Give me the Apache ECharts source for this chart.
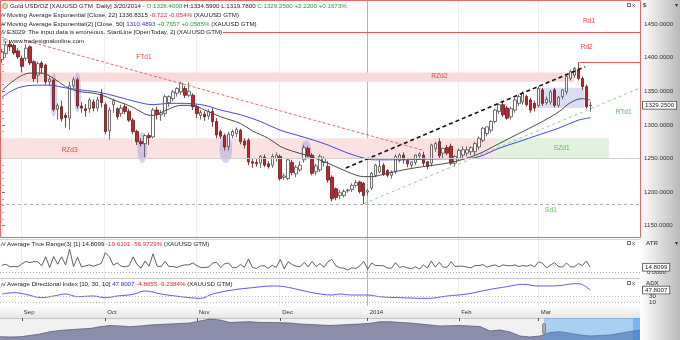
<!DOCTYPE html>
<html><head><meta charset="utf-8">
<script src="https://cdn.jsdelivr.net/npm/echarts@6/dist/echarts.min.js"></script>
<style>html,body{margin:0;padding:0;background:#fff}#c{width:680px;height:340px}</style>
</head><body><div id="c"></div><script>
// ---------- DATA ----------
const open = [
1397,1406,1420,1418,1410,1399,1399,1416,1394,1374,
1392,1389,1364,1366,1323,1327,1314,1310,1358,1367,
1328,1324,1324,1334,1325,1346,1330,1291,1330,1324,
1317,1327,1320,1307,1290,1275,1272,1284,1282,1322,
1315,1317,1333,1339,1347,1349,1354,1344,1344,1327,
1314,1316,1313,1320,1305,1290,1284,1268,1284,1287,
1292,1276,1277,1245,1244,1243,1252,1242,1240,1250,
1253,1222,1220,1244,1227,1233,1248,1265,1255,1230,
1233,1244,1238,1222,1205,1195,1195,1202,1204,1210,
1215,1213,1200,1206,1225,1230,1240,1232,1225,1230,
1247,1255,1247,1240,1244,1254,1255,1245,1243,1265,
1275,1258,1266,1268,1243,1250,1255,1258,1260,1260,
1267,1277,1287,1292,1305,1320,1330,1325,1312,1322,
1332,1334,1342,1337,1332,1329,1352,1333,1334,1352,
1329,1342,1349,1369,1374,1382,1369,1357,1328.40];
const high = [
1413,1424,1426,1421,1414,1403,1420,1418,1396,1394,
1395,1391,1372,1368,1332,1336,1318,1364,1371,1370,
1334,1331,1340,1338,1342,1353,1333,1326,1339,1326,
1330,1332,1324,1310,1293,1280,1286,1288,1325,1327,
1322,1345,1344,1352,1356,1364,1358,1363,1347,1330,
1322,1320,1323,1325,1310,1293,1287,1290,1293,1296,
1294,1280,1280,1250,1249,1255,1256,1246,1257,1259,
1256,1228,1250,1248,1240,1246,1270,1268,1258,1242,
1256,1253,1246,1225,1207,1203,1204,1205,1213,1218,
1217,1215,1204,1230,1242,1248,1243,1234,1232,1256,
1258,1259,1250,1246,1256,1259,1260,1246,1272,1275,
1280,1265,1270,1272,1255,1265,1268,1268,1268,1275,
1283,1297,1298,1307,1324,1332,1334,1328,1327,1340,
1345,1350,1345,1340,1336,1357,1355,1342,1352,1355,
1343,1353,1373,1382,1386,1392,1372,1360,1334.59];
const low = [
1392,1400,1410,1404,1398,1378,1395,1389,1364,1362,
1376,1360,1358,1320,1308,1305,1296,1293,1354,1324,
1318,1312,1318,1320,1320,1326,1286,1278,1318,1308,
1312,1316,1304,1286,1270,1268,1252,1270,1280,1308,
1306,1312,1327,1335,1342,1345,1340,1341,1322,1310,
1308,1306,1308,1297,1280,1279,1262,1262,1280,1282,
1271,1265,1240,1236,1238,1236,1237,1235,1236,1245,
1217,1218,1218,1225,1222,1230,1244,1252,1225,1225,
1230,1238,1214,1186,1188,1190,1192,1199,1200,1207,
1198,1182,1195,1203,1222,1228,1224,1222,1220,1227,
1244,1242,1237,1236,1240,1250,1238,1234,1238,1260,
1250,1250,1255,1240,1238,1247,1250,1253,1255,1255,
1263,1274,1283,1288,1302,1316,1312,1308,1308,1318,
1328,1330,1327,1318,1320,1326,1328,1330,1330,1326,
1326,1338,1345,1366,1370,1366,1352,1324,1319.78];
const close = [
1408,1419,1416,1407,1401,1387,1414,1392,1369,1391,
1385,1364,1368,1323,1329,1309,1311,1358,1367,1328,
1325,1321,1337,1325,1337,1333,1290,1322,1336,1312,
1325,1320,1307,1290,1275,1272,1284,1281,1322,1315,
1318,1342,1342,1349,1354,1362,1344,1350,1327,1317,
1318,1312,1320,1305,1285,1283,1267,1286,1290,1293,
1275,1270,1245,1243,1242,1253,1240,1238,1253,1255,
1220,1224,1248,1229,1237,1240,1266,1254,1228,1239,
1253,1250,1218,1190,1192,1199,1201,1203,1210,1214,
1201,1195,1202,1228,1240,1238,1226,1225,1230,1253,
1255,1248,1242,1245,1255,1257,1243,1238,1270,1272,
1254,1265,1258,1243,1253,1262,1263,1263,1266,1272,
1280,1295,1297,1305,1322,1330,1315,1310,1324,1337,
1342,1347,1330,1322,1325,1354,1332,1338,1349,1329,
1341,1352,1372,1379,1384,1369,1357,1327,1329.25];
// Average True Range(3) [1] values per bar
const atr = [
21,24,16,17,16,25,33,29,32,32,
19,47,14,48,24,47,22,71,17,46,
16,19,22,18,22,27,60,47,21,28,
18,16,20,47,23,12,34,18,56,19,
16,33,17,17,14,19,22,22,28,20,
14,14,15,28,30,14,25,28,13,14,
23,15,40,14,11,19,19,11,21,14,
39,10,32,23,18,16,30,16,33,17,
26,15,32,39,19,13,12,6,13,11,
19,33,9,28,20,20,19,12,12,29,
14,17,13,10,16,9,22,12,34,15,
30,15,15,32,17,18,18,15,13,20,
20,23,15,19,22,16,22,20,19,22,
17,20,18,22,16,32,27,12,22,29,
17,15,28,16,16,26,20,34.4,14.8099];
// EMA readings [bar index, value]
const ema22 = [[0,1351],[7,1377],[10,1377],[13,1369],[16,1357],[19,1350],[24,1346],[29,1335],[33,1326],[36,1316],[38,1314],[41,1321],[45,1329],[48,1329],[51,1322],[55,1312],[60,1302],[63,1291],[67,1280],[70,1268],[73,1261],[77,1254],[82,1243],[87,1230],[91,1223],[93,1223],[97,1228],[101,1233],[106,1238],[111,1242],[115,1247],[120,1257],[125,1272],[130,1287],[135,1302],[140,1319],[143,1333],[146,1339],[148,1336.83]];
const ema50 = [[0,1341],[4,1355],[9,1359],[12,1359],[16,1355],[21,1351],[24,1349],[29,1342],[34,1334],[38,1330],[42,1332],[46,1332],[51,1329],[55,1322],[60,1315],[65,1305],[70,1292],[74,1285],[78,1278],[82,1270],[87,1258],[92,1249],[94,1248],[101,1248],[107,1249],[112,1249.5],[117,1250],[120,1252.6],[125,1265],[130,1275],[135,1285],[140,1295],[145,1307],[148,1310.49]];
// ADX readings [bar index, value]
const adx = [[0,36],[3,40],[6,35],[10,25],[13,30],[16,36],[19,28],[23,30],[26,25],[29,30],[33,35],[36,45],[40,36],[45,28],[50,23],[53,36],[58,48],[63,55],[68,60],[71,58],[75,48],[79,38],[83,33],[85,36],[88,33],[92,33],[95,28],[100,25],[107,23],[112,30],[117,36],[122,48],[127,58],[131,65],[135,60],[140,61],[143,66],[145,67],[148,47.8007]];
// long-history navigator profile
const navValues = [3.3,3.0,3.2,4.5,6.0,8.3,9.5,10.3,11.0,11.5,13.3,14.5,14.0,13.3,14.0,15.0,15.5,16.0,16.5,17.0,19.0,21.0,20.0,17.5,18.0,18.3,17.5,17.5,17.3,17.0,16.0,15.5,15.0,14.5,15.0,15.5,16.0,16.7,18.3,18.3,17.5,17.0,16.0,15.0,14.0,14.3,14.5,14.0,13.5,9.0,10.0,8.0,4.0,3.0,4.0,7.5,8.3,6.7,5.0,4.0,4.5,5.0,6.7,8.5,10.0];
const monthTickIdx = [5,26,49,70,92,115,135];
const monthTickText = ['Sep','Oct','Nov','Dec','2014','Feb','Mar'];
// annotations (bar index / price units)
const zones = [[-0.5,144,1378,1364],[-0.5,124,1280,1250],[124,152.7,1280,1250],[134.5,146.5,1355,1325]];
const highlights = [[13,1377,1312,0.9],[19,1378,1318,0.9],[35.3,1289,1243,1.25],[56.3,1285,1243,1.6],[76.5,1277,1248,1.25]];
const trendLines = [[5.5,1426,105.7,1262.6],[86.5,1235.8,146.7,1386.5],[91.1,1183,160.5,1354.8],[-0.5,1182.3,160.5,1182.3],[55.6,1437.4,160.5,1437.4],[145,1394.2,160.5,1394.2],[-0.5,1250,160.5,1250]];
const labelText = ['FTd1','RZd2','RZd3','Rd1','Rd2','SZd1','Sd1','RTd1'];
const labelPos = [[35.7,1401],[110,1372.6],[17,1262],[147.7,1454.5],[147.1,1415],[140.8,1266],[138.1,1172.6],[156.4,1318.4]];

// ---------- STYLES ----------
const FONT = '"Liberation Sans", Arial, sans-serif';
const F = '6.2px "Liberation Sans", Arial, sans-serif';
const zoneColors = ['#f9dada','#fbe1e1','#e1f2de','#d9def6'];
const lineStyles = [
  {c:'#e46a6a', w:1, d:[3,2]},
  {c:'#111111', w:1.6, d:[4,3]},
  {c:'#8fd08f', w:1, d:[3,3]},
  {c:'#b0b0b0', w:1, d:[3,3]},
  {c:'#e05a5a', w:1, d:null},
  {c:'#e05a5a', w:1, d:null},
  {c:'#cfcfcf', w:1, d:null}];
const labelColor = ['#e04848','#e04848','#e04848','#e04848','#e04848','#5cb85c','#5cb85c','#5cb85c'];

// ---------- CATEGORIES ----------
const dates = [];
{ const d = new Date(Date.UTC(2013,7,26));
  while (dates.length < close.length) { const w = d.getUTCDay();
    if (w>0 && w<6) dates.push((d.getUTCMonth()+1)+'/'+d.getUTCDate()+'/'+d.getUTCFullYear());
    d.setUTCDate(d.getUTCDate()+1); } }
const N_PAD = 12;
const cats = dates.concat(Array.from({length:N_PAD},(_,k)=>'pad'+k));
const NC = cats.length;
const last = close.length-1;

const chart = echarts.init(document.getElementById('c'), null, {renderer:'canvas'});
const W = 640;
const g = (top,height)=>({left:0, top, width:W, height, containLabel:false, outerBoundsMode:'none', show:false});
const hx = (gi)=>({gridIndex:gi, type:'value', min:-0.5, max:NC-0.5, show:false});
const HIDE = {color:'rgba(0,0,0,0)', width:0, opacity:1};
const smallLbl = (txt)=>({show:true, position:'end', distance:3, formatter:txt, fontSize:6.2, fontFamily:FONT, color:'#222', backgroundColor:'#fff', borderColor:'#444', borderWidth:0.8, padding:[1,2,0,2], opacity:1});

const option = {
  animation:false,
  backgroundColor:'#ffffff',
  grid:[g(0,306), g(24,201.7), g(240,32), g(280,26), g(306,12), g(318,22)],
  xAxis:[
    hx(0),
    {gridIndex:1, type:'category', data:cats, show:false, boundaryGap:true},
    Object.assign(hx(1),{position:'top'}),
    hx(2), hx(3),
    {gridIndex:4, type:'category', data:cats, position:'top', boundaryGap:true,
     axisLine:{show:true, lineStyle:{color:'#c4c4c4', width:1}},
     axisTick:{show:true, inside:true, length:3, alignWithLabel:true, interval:(i)=>monthTickIdx.includes(i), lineStyle:{color:'#555'}},
     axisLabel:{show:true, inside:true, interval:(i)=>monthTickIdx.includes(i), formatter:(v,i)=>monthTickText[monthTickIdx.indexOf(i)]||'', align:'left', margin:3, padding:[0,0,0,2], fontSize:6, fontFamily:FONT, color:'#333'},
     splitLine:{show:false}},
    {gridIndex:5, type:'value', min:0, max:navValues.length-1, show:false}
  ],
  yAxis:[
    {gridIndex:0, type:'value', min:0, max:1, show:false},
    {gridIndex:1, type:'value', min:1150, max:1450, interval:50, position:'right',
     axisLine:{show:false}, axisTick:{show:true, length:3, lineStyle:{color:'#777'}},
     minorTick:{show:true, splitNumber:5, length:2, lineStyle:{color:'#aaa'}},
     splitLine:{show:false}, minorSplitLine:{show:false},
     axisLabel:{margin:4, fontSize:6.2, fontFamily:FONT, color:'#333', formatter:v=>v.toFixed(4)}},
    {gridIndex:2, type:'value', min:0, max:99.2, interval:50, position:'right',
     axisLine:{show:false}, axisTick:{show:false}, splitLine:{show:false},
     axisLabel:{margin:7, fontSize:6.2, fontFamily:FONT, color:'#333', formatter:v=>v===0?'0.0000':''}},
    {gridIndex:3, type:'value', min:0, max:78, interval:10, position:'right',
     axisLine:{show:false}, axisTick:{show:false}, splitLine:{show:false},
     axisLabel:{margin:9, fontSize:6.2, fontFamily:FONT, color:'#333', formatter:v=>(v===10||v===30)?String(v):''}},
    {gridIndex:4, type:'value', min:0, max:1, show:false},
    {gridIndex:5, type:'value', min:0, max:22, show:false}
  ],
  series:[
    {type:'custom', xAxisIndex:0, yAxisIndex:0, silent:true, z:0,
     data: monthTickIdx.map((i,k)=>[i,k]),
     renderItem:(p,api)=>{ const a=api.coord([api.value(0),0]), b=api.coord([api.value(0),1]); const x=Math.round(a[0])-0.5;
       return {type:'line', shape:{x1:x,y1:a[1],x2:x,y2:b[1]}, style:{stroke: monthTickText[api.value(1)]==='2014'?'#b4b4b4':'#ededed', lineWidth:1}}; }},
    {type:'custom', xAxisIndex:2, yAxisIndex:1, silent:true, z:1, data:zones,
     renderItem:(p,api)=>{ const a=api.coord([api.value(0),api.value(2)]), b=api.coord([api.value(1),api.value(3)]);
       return {type:'rect', shape:{x:a[0],y:a[1],width:b[0]-a[0],height:b[1]-a[1]}, style:{fill:zoneColors[p.dataIndex]}}; }},
    {type:'custom', xAxisIndex:2, yAxisIndex:1, silent:true, z:2, data:highlights,
     renderItem:(p,api)=>{ const c=api.coord([api.value(0),(api.value(1)+api.value(2))/2]), t=api.coord([api.value(0)+api.value(3),api.value(1)]);
       return {type:'ellipse', shape:{cx:c[0],cy:c[1],rx:t[0]-c[0],ry:c[1]-t[1]}, style:{fill:'rgba(150,150,225,0.42)'}}; }},
    {type:'custom', xAxisIndex:2, yAxisIndex:1, silent:true, z:5, data:trendLines,
     renderItem:(p,api)=>{ let a=api.coord([api.value(0),api.value(1)]), b=api.coord([api.value(2),api.value(3)]); const s=lineStyles[p.dataIndex];
       if (api.value(1)===api.value(3)) { const y=Math.round(a[1])+0.5; a=[a[0],y]; b=[b[0],y]; }
       return {type:'line', shape:{x1:a[0],y1:a[1],x2:b[0],y2:b[1]}, style:{stroke:s.c, lineWidth:s.w, lineDash:s.d||null}}; }},
    {type:'candlestick', xAxisIndex:1, yAxisIndex:1, z:3, barWidth:3, clip:false,
     data: open.map((o,i)=>[o, close[i], low[i], high[i]]),
     itemStyle:{color:'#ffffff', color0:'#c4262e', borderColor:'#4a4a4a', borderColor0:'#5e1a1a', borderWidth:0.8},
     markLine:{silent:true, symbol:['none','none'], animation:false, z:20,
       data:[{yAxis:close[last], lineStyle:HIDE, label:smallLbl(close[last].toFixed(4))}]}},
    {type:'line', xAxisIndex:2, yAxisIndex:1, z:4, data:ema22, smooth:0.35, symbol:'none', lineStyle:{color:'#4a4a4a', width:1}},
    {type:'line', xAxisIndex:2, yAxisIndex:1, z:4, data:ema50, smooth:0.35, symbol:'none', lineStyle:{color:'#4848d8', width:1}},
    {type:'custom', xAxisIndex:2, yAxisIndex:1, silent:true, z:6, data:labelPos,
     renderItem:(p,api)=>{ const c=api.coord([api.value(0),api.value(1)]);
       return {type:'text', x:c[0], y:c[1], style:{text:labelText[p.dataIndex], fill:labelColor[p.dataIndex], font:'6.6px '+FONT, align:'center', verticalAlign:'middle', textAlign:'center', textVerticalAlign:'middle'}}; }},
    {type:'line', xAxisIndex:3, yAxisIndex:2, clip:false, data:atr.map((v,i)=>[i,v]), symbol:'none', lineStyle:{color:'#3a3a3a', width:0.8},
     markLine:{silent:true, symbol:['none','none'], animation:false, z:20, data:[
       {yAxis:0, lineStyle:{color:'#aaaaaa', type:[1,2], width:1}, label:{show:false}},
       {yAxis:atr[last], lineStyle:HIDE, label:smallLbl(atr[last].toFixed(4))}]}},
    {type:'line', xAxisIndex:4, yAxisIndex:3, clip:false, data:adx, smooth:0.4, symbol:'none', lineStyle:{color:'#5a5ae6', width:1},
     markLine:{silent:true, symbol:['none','none'], animation:false, z:20, data:[
       {yAxis:30, lineStyle:{color:'#bbbbbb', type:[1,2], width:1}, label:{show:false}},
       {yAxis:10, lineStyle:{color:'#bbbbbb', type:[1,2], width:1}, label:{show:false}},
       {yAxis:adx[adx.length-1][1], lineStyle:HIDE, label:smallLbl(adx[adx.length-1][1].toFixed(4))}]}},
    {type:'line', xAxisIndex:6, yAxisIndex:5, data:navValues.map((v,i)=>[i,v]), symbol:'none', lineStyle:{color:'#5c5c80', width:0.8}, areaStyle:{color:'#8c8cab', opacity:1}}
  ],
  graphic:[
    {type:'rect', z:-5, silent:true, shape:{x:640,y:0,width:40,height:340}, style:{fill:new echarts.graphic.LinearGradient(0,0,1,0,[{offset:0,color:'#ffffff'},{offset:1,color:'#bababa'}])}},
    {type:'rect', z:-5, silent:true, shape:{x:0,y:306,width:640,height:12}, style:{fill:new echarts.graphic.LinearGradient(0,0,0,1,[{offset:0,color:'#fdfdfd'},{offset:1,color:'#e6e6e6'}])}},
    {type:'rect', z:-5, silent:true, shape:{x:0,y:318,width:640,height:22}, style:{fill:'#f1f1f1'}},
    {type:'rect', z:50, silent:true, shape:{x:544,y:318,width:96,height:22}, style:{fill:'rgba(70,160,240,0.42)'}},
    {type:'rect', z:50, silent:true, shape:{x:633,y:318,width:7,height:22}, style:{fill:'rgba(40,130,235,0.35)'}},
    {type:'rect', z:51, silent:true, shape:{x:542.5,y:323.5,width:3,height:10,r:1}, style:{fill:'#a8a8a8', stroke:'#666', lineWidth:0.6}},
    {type:'rect', z:60, silent:true, shape:{x:0.5,y:0.5,width:640,height:237}, style:{fill:null, stroke:'#e06a6a', lineWidth:1}},
    {type:'line', z:60, silent:true, shape:{x1:0,y1:239.5,x2:640,y2:239.5}, style:{stroke:'#d4d4d4'}},
    {type:'line', z:60, silent:true, shape:{x1:0,y1:278.5,x2:640,y2:278.5}, style:{stroke:'#c8c8c8'}},
    // legend texts
    {type:'circle', z:100, silent:true, shape:{cx:5,cy:6,r:2.6}, style:{fill:'#e9d898', stroke:'#8a7a40', lineWidth:0.6}},
    {type:'text', z:100, silent:true, x:10, y:6, style:{text:'{k|Gold USD/OZ [XAUUSD GTM  Daily] 3/20/2014 }{g|- O:1328.4000}{k| H:1334.5900 L:1319.7800 }{g|C:1329.2500 +2.2200 +0.1673%}', font:F, verticalAlign:'middle', rich:{k:{fill:'#222',font:F}, g:{fill:'#2f9a2f',font:F}}}},
    {type:'polyline', z:100, silent:true, shape:{points:[[1,17],[2.5,13.5],[4,16.5],[5.5,13]]}, style:{stroke:'#555', lineWidth:0.7, fill:null}},
    {type:'text', z:100, silent:true, x:7, y:15, style:{text:'{k|Moving Average Exponential [Close, 22] 1336.8315 }{r|-0.722 -0.054%}{k| (XAUUSD GTM)}', font:F, verticalAlign:'middle', rich:{k:{fill:'#222',font:F}, r:{fill:'#e02828',font:F}}}},
    {type:'polyline', z:100, silent:true, shape:{points:[[1,26],[2.5,22.5],[4,25.5],[5.5,22]]}, style:{stroke:'#555', lineWidth:0.7, fill:null}},
    {type:'text', z:100, silent:true, x:7, y:24, style:{text:'{k|Moving Average Exponential(2) [Close, 50] }{b|1310.4893}{g| +0.7657 +0.0585%}{k| (XAUUSD GTM)}', font:F, verticalAlign:'middle', rich:{k:{fill:'#222',font:F}, b:{fill:'#3030d8',font:F}, g:{fill:'#2f9a2f',font:F}}}},
    {type:'polyline', z:100, silent:true, shape:{points:[[1,34.5],[2.5,31],[4,34],[5.5,30.5]]}, style:{stroke:'#555', lineWidth:0.7, fill:null}},
    {type:'text', z:100, silent:true, x:7, y:32.5, style:{text:'E3029: The input data is erroneous. StartLine [OpenToday, 2] (XAUUSD GTM)', font:F, fill:'#222', verticalAlign:'middle'}},
    {type:'text', z:100, silent:true, x:3, y:41, style:{text:'© www.tradesignalonline.com', font:F, fill:'#222', verticalAlign:'middle'}},
    {type:'polyline', z:100, silent:true, shape:{points:[[1,246],[2.5,242.5],[4,245.5],[5.5,242]]}, style:{stroke:'#555', lineWidth:0.7, fill:null}},
    {type:'text', z:100, silent:true, x:7, y:244, style:{text:'{k|Average True Range(3) [1] 14.8099 }{r|-19.6101 -56.9729%}{k| (XAUUSD GTM)}', font:F, verticalAlign:'middle', rich:{k:{fill:'#222',font:F}, r:{fill:'#e02828',font:F}}}},
    {type:'polyline', z:100, silent:true, shape:{points:[[1,286.5],[2.5,283],[4,286],[5.5,282.5]]}, style:{stroke:'#555', lineWidth:0.7, fill:null}},
    {type:'text', z:100, silent:true, x:7, y:284.5, style:{text:'{k|Average Directional Index [10, 30, 10] }{b|47.8007}{r| -4.8655 -9.2384%}{k| (XAUUSD GTM)}', font:F, verticalAlign:'middle', rich:{k:{fill:'#222',font:F}, b:{fill:'#3030d8',font:F}, r:{fill:'#e02828',font:F}}}},
    // right column captions
    {type:'text', z:100, silent:true, x:643, y:5, style:{text:'$', font:F, fill:'#222', verticalAlign:'middle'}},
    {type:'text', z:100, silent:true, x:675, y:5, style:{text:'▾', font:F, fill:'#333', verticalAlign:'middle'}},
    {type:'text', z:100, silent:true, x:646, y:243, style:{text:'ATR', font:F, fill:'#222', verticalAlign:'middle'}},
    {type:'text', z:100, silent:true, x:675, y:243, style:{text:'▾', font:F, fill:'#333', verticalAlign:'middle'}},
    {type:'text', z:1, silent:true, x:646, y:283, style:{text:'ADX', font:F, fill:'#222', verticalAlign:'middle'}},
    // panel icons
    {type:'rect', z:100, silent:true, shape:{x:627.5,y:3.5,width:3,height:3}, style:{fill:'#fff', stroke:'#444', lineWidth:0.8}},
    {type:'text', z:100, silent:true, x:632, y:5, style:{text:'x', font:F, fill:'#444', verticalAlign:'middle'}},
    {type:'rect', z:100, silent:true, shape:{x:627.5,y:241.5,width:3,height:3}, style:{fill:'#fff', stroke:'#444', lineWidth:0.8}},
    {type:'text', z:100, silent:true, x:632, y:243, style:{text:'x', font:F, fill:'#444', verticalAlign:'middle'}},
    {type:'rect', z:100, silent:true, shape:{x:627.5,y:281.5,width:3,height:3}, style:{fill:'#fff', stroke:'#444', lineWidth:0.8}},
    {type:'text', z:100, silent:true, x:632, y:283, style:{text:'x', font:F, fill:'#444', verticalAlign:'middle'}}
  ]
};
chart.setOption(option);
</script></body></html>
